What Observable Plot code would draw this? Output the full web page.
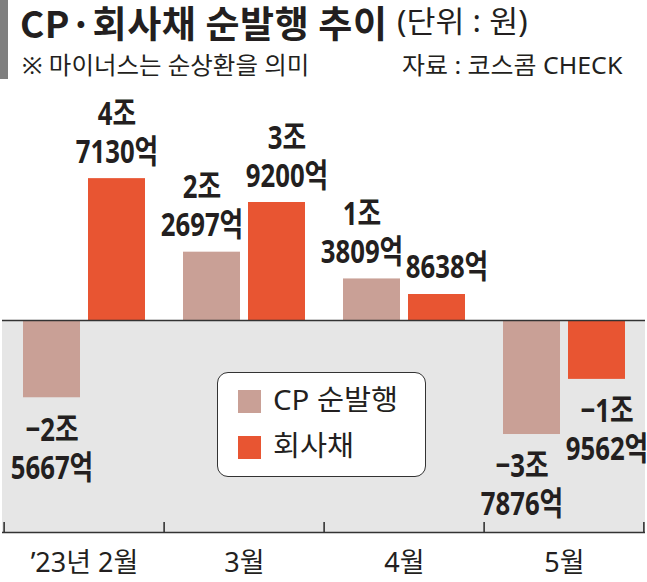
<!DOCTYPE html>
<html><head><meta charset="utf-8">
<script src="https://cdn.jsdelivr.net/npm/d3@7"></script>
<script src="https://cdn.jsdelivr.net/npm/@observablehq/plot@0.6"></script>
<style>
body{margin:0;background:#fff;font-family:"Noto Sans","Noto Sans CJK KR",sans-serif;color:#231f20;}
#wrap{position:relative;width:647px;height:582px;overflow:hidden;background:#fff;}
.t{position:absolute;white-space:nowrap;line-height:1;transform-origin:left top;}
#chart{position:absolute;left:0;top:90px;}
#legend{position:absolute;left:217px;top:372px;width:207px;height:103px;border:1.5px solid #333;border-radius:11px;background:#fff;}
.li{position:absolute;left:20px;height:24px;}
.sw{position:absolute;left:0;top:0;width:23px;height:23px;}
.lt{position:absolute;left:35px;top:-5px;font-size:28px;line-height:1;white-space:nowrap;transform-origin:left top;transform:scaleX(1.05);}
</style></head><body><div id="wrap">
<div style="position:absolute;left:0;top:0;width:8px;height:79px;background:#7f7f7f"></div>
<div class="t" id="title" style="left:20px;top:3px;font-family:'Noto Sans CJK KR',sans-serif;font-size:37px;font-weight:700;letter-spacing:0.6px;line-height:1.05">CP·회사채 순발행 추이</div>
<div class="t" id="unit" style="left:397px;top:6px;font-size:30px;font-weight:400;transform:scaleX(1.05)">(단위 : 원)</div>
<div class="t" id="sub" style="left:22px;top:53px;font-size:24px;transform:scaleX(1.02)">※ 마이너스는 순상환을 의미</div>
<div class="t" id="src" style="left:402px;top:53px;font-size:24px;transform:scaleX(1.04)">자료 : 코스콤 CHECK</div>
<div id="chart"></div>
<div id="legend"></div>
</div>
<script>
const months = ["’23년 2월", "3월", "4월", "5월"];
const seriesNames = ["CP 순발행", "회사채"];
const cpValues = [-25667, 22697, 13809, -37876];     // 억 원
const corpValues = [47130, 39200, 8638, -19562];     // 억 원
const colors = ["#c9a096", "#e85532"];

const yMin = -70430, yMax = 76410;
const W = 647, H = 492, mL = 2, mR = 2, mB = 50;
const bw = (W - mL - mR) / months.length;

const rows = [];
months.forEach((m, i) => {
  const sameSign = Math.sign(cpValues[i]) === Math.sign(corpValues[i]);
  rows.push({month: m, series: seriesNames[0], value: cpValues[i], pair: sameSign});
  rows.push({month: m, series: seriesNames[1], value: corpValues[i], pair: sameSign});
});
const cpRows = rows.filter(d => d.series === seriesNames[0]);
const corpRows = rows.filter(d => d.series === seriesNames[1]);

function fmt(v) {
  const a = Math.abs(v), jo = Math.floor(a / 10000), eok = a % 10000;
  const s = v < 0 ? "−" : "";
  return jo > 0 ? `${s}${jo}조\n${eok}억` : `${s}${eok}억`;
}

const FONT = "Noto Sans, Noto Sans CJK KR, sans-serif";
const labelStyle = {fontFamily: FONT, fontWeight: 700, fontSize: 33, lineHeight: 1.15, fill: "#231f20"};
const off = 32.5, spread = 10;

// labels of two same-side bars are pushed apart a little so they do not collide
function labelMark(data, sign, pos) {
  const sub = data.filter(d => (d.value >= 0) === pos);
  const groups = [sub.filter(d => d.pair), sub.filter(d => !d.pair)];
  return groups.map((g, k) => Plot.text(g, {
    x: "month", y: "value", text: d => fmt(d.value),
    dx: sign * (off + (k === 0 ? spread : 0)),
    dy: pos ? -16 : 16, lineAnchor: pos ? "bottom" : "top", ...labelStyle
  }));
}

const chart = Plot.plot({
  width: W, height: H,
  marginTop: 0, marginBottom: mB, marginLeft: mL, marginRight: mR,
  style: {fontFamily: FONT, background: "transparent"},
  x: {domain: months, padding: 0, axis: null},
  y: {domain: [yMin, yMax], axis: null},
  color: {domain: seriesNames, range: colors},
  marks: [
    Plot.barY([0], {y1: yMin, y2: 0, fill: "#e6e6e6"}),
    Plot.barY(cpRows, {x: "month", y: "value", fill: colors[0], insetLeft: 19, insetRight: 84}),
    Plot.barY(corpRows, {x: "month", y: "value", fill: colors[1], insetLeft: 84, insetRight: 19}),
    Plot.ruleY([0], {stroke: "#333", strokeWidth: 1.6}),
    Plot.ruleY([yMin], {stroke: "#333", strokeWidth: 1.6}),
    Plot.ruleX(months, {x: d => d, dx: -bw / 2, y1: yMin, y2: yMin + 3300, stroke: "#333", strokeWidth: 1.6}),
    Plot.ruleX(months.slice(-1), {x: d => d, dx: bw / 2 - 1, y1: yMin, y2: yMin + 3300, stroke: "#333", strokeWidth: 1.6}),
    ...labelMark(cpRows, -1, true),
    ...labelMark(corpRows, 1, true),
    ...labelMark(cpRows, -1, false),
    ...labelMark(corpRows, 1, false),
    Plot.axisX({tickSize: 0, tickPadding: 20, fontSize: 27, fontFamily: FONT, fill: "#231f20", label: null})
  ]
});
document.getElementById("chart").appendChild(chart);

// condense the bold value labels horizontally (reference uses a condensed typeface)
chart.querySelectorAll('g[aria-label="text"] text').forEach(t => {
  const tr = t.getAttribute("transform");
  if (tr) t.setAttribute("transform", tr + " scale(0.78,1)");
});

const lg = document.getElementById("legend");
seriesNames.forEach((n, i) => {
  const it = document.createElement("div");
  it.className = "li";
  it.style.top = (17 + i * 46) + "px";
  it.innerHTML = `<div class="sw" style="background:${colors[i]}"></div><div class="lt">${n}</div>`;
  lg.appendChild(it);
});
</script>
</body></html>
